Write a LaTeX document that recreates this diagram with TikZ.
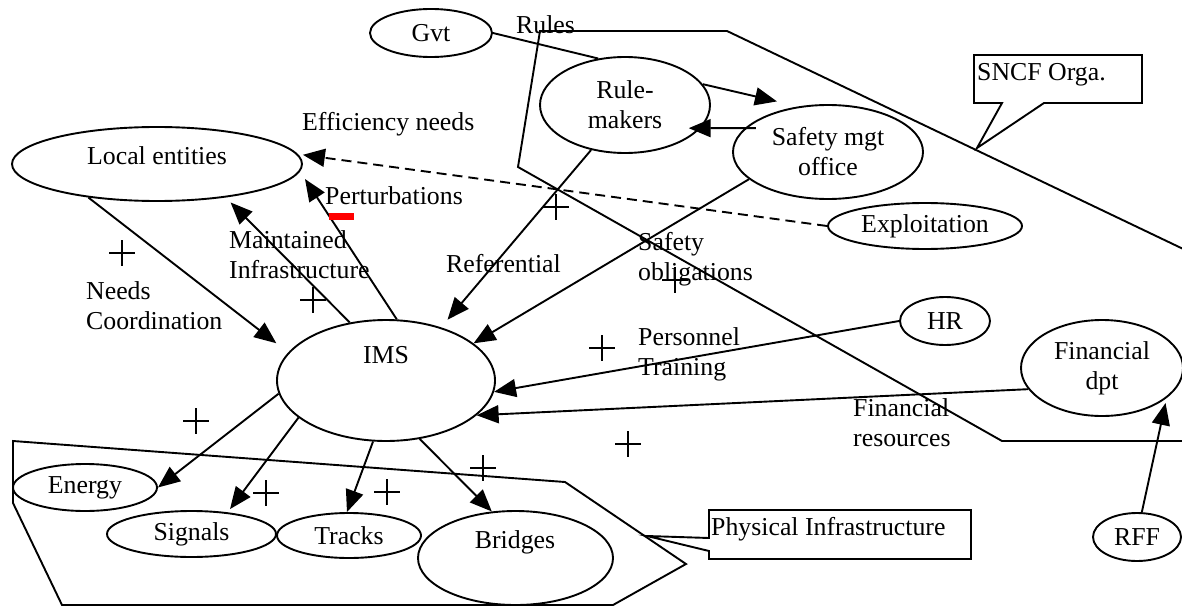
\documentclass[tikz,border=0pt]{standalone}
\usepackage{fontspec}
\setmainfont{Liberation Serif}
\usetikzlibrary{arrows.meta,shapes.geometric}

\begin{document}
\begin{tikzpicture}[x=1pt,y=-1pt,
  every node/.style={font=\fontsize{25.8}{30}\selectfont, inner sep=0pt},
  ent/.style={draw, ellipse, line width=1.9pt, align=center},
  lbl/.style={anchor=west, align=left},
  link/.style={line width=1.9pt},
  arr/.style={link, -{Triangle[length=22pt,width=18pt]}},
  outline/.style={line width=1.9pt, line join=miter},
  callout/.style={outline, fill=white},
  plussign/.pic={\draw[line width=1.7pt] (-13,0) -- (13,0) (0,-13) -- (0,13);}
]
\useasboundingbox (0,0) rectangle (1182,607);
\fill[white] (0,0) rectangle (1182,607);
\clip (0,0) rectangle (1182,607);

% organisational boundary (SNCF) and physical infrastructure boundary
\draw[outline] (540,31) -- (727,31) -- (1200,257) -- (1200,441) -- (1002,441) -- (518,167) -- cycle;
\draw[outline] (13,441) -- (565,482) -- (686,564) -- (613,605) -- (62,605) -- (13,503) -- cycle;

% entities
\node[ent, minimum width=122pt, minimum height=48pt] (gvt) at (431,33) {Gvt};
\node[ent, minimum width=170pt, minimum height=96pt] (rm) at (625,105) {Rule-\\makers};
\node[ent, minimum width=190pt, minimum height=94pt] (smo) at (828,152) {Safety mgt\\office};
\node[ent, minimum width=194pt, minimum height=46pt] (expl) at (925,226) {Exploitation};
\node[ent, minimum width=290pt, minimum height=74pt] (le) at (157,164) {};
\node (let) at (157,156) {Local entities};
\node[ent, minimum width=218pt, minimum height=121pt] (ims) at (386,380.5) {};
\node (imst) at (386,355) {IMS};
\node[ent, minimum width=90pt, minimum height=48pt] (hr) at (945,321) {HR};
\node[ent, minimum width=162pt, minimum height=96pt] (fin) at (1102,368) {Financial\\dpt};
\node[ent, minimum width=88pt, minimum height=48pt] (rff) at (1137,537) {RFF};
\node[ent, minimum width=144pt, minimum height=47pt] (energy) at (85,487.5) {Energy};
\node[ent, minimum width=169pt, minimum height=46pt] (signals) at (191.5,534) {Signals};
\node[ent, minimum width=144pt, minimum height=45pt] (tracks) at (349,535.5) {Tracks};
\node[ent, minimum width=195pt, minimum height=94pt] (bridges) at (515.5,558) {};
\node (brt) at (515,542) {Bridges};

% flow labels
\node[lbl] (lrules) at (516,25) {Rules};
\node[lbl] (leff) at (302,124) {Efficiency needs};
\node[lbl] (lpert) at (325,196) {Perturbations};
\node[lbl] (lmaint) at (229,255) {Maintained\\Infrastructure};
\node[lbl] (lneeds) at (86,306) {Needs\\Coordination};
\node[lbl] (lref) at (446,264) {Referential};
\node[lbl] (lsafe) at (638,259) {Safety\\obligations};
\node[lbl] (lpers) at (638,354) {Personnel\\Training};
\node[lbl] (lfinr) at (853,423) {Financial\\resources};

% links
\draw[link] (gvt.0) -- (rm.120);
\draw[arr, shorten >=22pt] (rm.15) -- (smo.123);
\draw[arr, shorten <=-11pt, shorten >=-12pt] (smo.164) -- (rm.-17);
\draw[arr, shorten >=15pt] (le.206) -- (ims.164);
\draw[arr, shorten >=7pt] (ims.122) -- (le.-26);
\draw[arr, shorten >=9pt] (ims.80) -- (le.-3);
\draw[arr, dashed, dash pattern=on 10pt off 6pt, shorten >=5pt] (expl.180) -- (le.4);
\draw[arr, shorten >=10pt] (rm.-127) -- (ims.44);
\draw[arr] (smo.199) -- (ims.23);
\draw[arr] (hr.180) -- (ims.-6);
\draw[arr] (fin.196) -- (ims.-21);
\draw[arr, shorten >=5pt] (rff.79) -- (fin.-25);
\draw[arr] (ims.187) -- (energy.0);
\draw[arr, shorten >=4pt] (ims.203) -- (signals.31);
\draw[arr] (ims.-102) -- (tracks.95);
\draw[arr] (ims.-60) -- (bridges.117);

% callouts
\draw[callout] (974,55) -- (1142,55) -- (1142,103) -- (1044,103) -- (977,148)
  -- (1002,103) -- (974,103) -- cycle;
\node[lbl] (lsncf) at (977,75) {SNCF Orga.};
\draw[callout] (709,510) -- (971,510) -- (971,559) -- (709,559) -- (709,551)
  -- (647,536) -- (709,538) -- cycle;
\node[lbl] (lphys) at (711,529) {Physical Infrastructure};

% polarity marks
\pic at (122,253) {plussign};
\pic at (313,300) {plussign};
\pic at (556,207) {plussign};
\pic at (675,280) {plussign};
\pic at (602,348) {plussign};
\pic at (628,444) {plussign};
\pic at (196,421) {plussign};
\pic at (266,493) {plussign};
\pic at (387,492) {plussign};
\pic at (483,468) {plussign};
\fill[red] (329,213) rectangle (354,220);
\end{tikzpicture}
\end{document}
